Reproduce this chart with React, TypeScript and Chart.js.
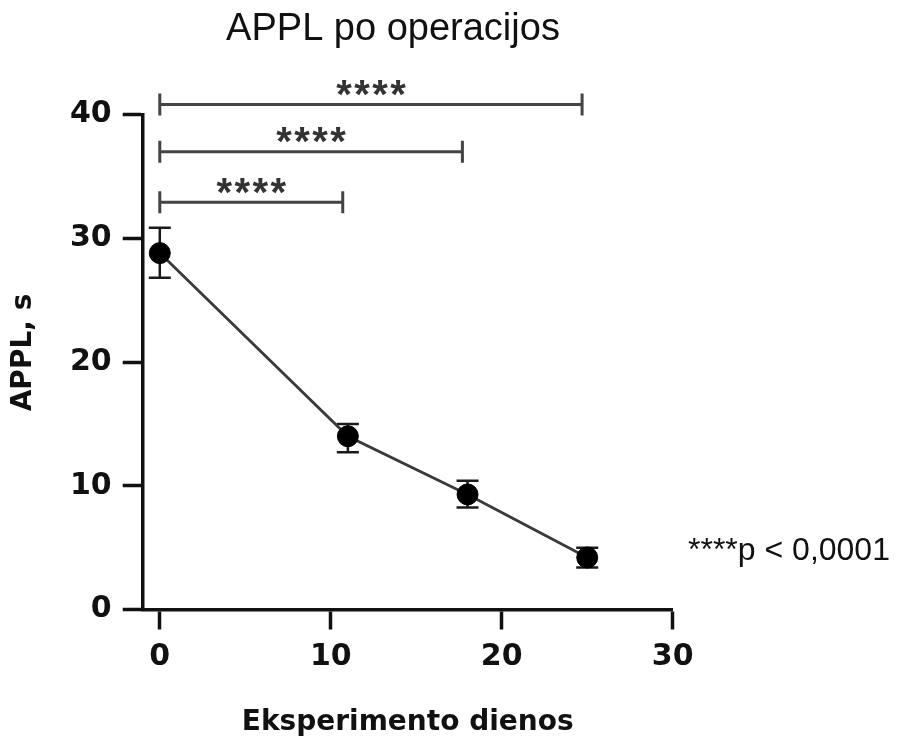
import React, { useEffect, useRef } from "react";
import { Chart, registerables } from "chart.js";

Chart.register(...registerables);

// ---- data ----
const DAYS = [0, 11, 18, 25];
const APPL_MEAN = [28.8, 14.0, 9.3, 4.2];
const APPL_UPPER = [30.85, 15.0, 10.4, 5.0];
const APPL_LOWER = [26.8, 12.7, 8.25, 3.4];

const X_TICKS = [0, 10, 20, 30];
const Y_TICKS = [0, 10, 20, 30, 40];

const BRACKET_FROM = [0, 0, 0];
const BRACKET_TO = [10.7, 17.7, 24.7];
const BRACKET_Y = [32.9, 37.0, 40.8];
const BRACKET_LABELS = ["****", "****", "****"];

const TITLE = "APPL po operacijos";
const X_TITLE = "Eksperimento dienos";
const Y_TITLE = "APPL, s";
const NOTE = "****p < 0,0001";

const INK = "#111111";

const annotate = {
  id: "annotate",
  beforeDatasetsDraw(chart: any) {
    const { ctx, scales } = chart;
    const x = scales.x;
    const y = scales.y;
    ctx.save();
    ctx.strokeStyle = "#1a1a1a";
    ctx.lineWidth = 2.5;
    DAYS.forEach((d, i) => {
      const px = x.getPixelForValue(d);
      const top = y.getPixelForValue(APPL_UPPER[i]);
      const bot = y.getPixelForValue(APPL_LOWER[i]);
      ctx.beginPath();
      ctx.moveTo(px, top);
      ctx.lineTo(px, bot);
      ctx.moveTo(px - 11, top);
      ctx.lineTo(px + 11, top);
      ctx.moveTo(px - 11, bot);
      ctx.lineTo(px + 11, bot);
      ctx.stroke();
    });
    ctx.restore();
  },
  afterDraw(chart: any) {
    const { ctx, scales } = chart;
    const x = scales.x;
    const y = scales.y;
    ctx.save();

    // significance brackets
    ctx.strokeStyle = "#444444";
    ctx.lineWidth = 3;
    BRACKET_Y.forEach((v, i) => {
      const x1 = x.getPixelForValue(BRACKET_FROM[i]);
      const x2 = x.getPixelForValue(BRACKET_TO[i]);
      const py = y.getPixelForValue(v);
      ctx.beginPath();
      ctx.moveTo(x1, py);
      ctx.lineTo(x2, py);
      ctx.moveTo(x1, py - 11);
      ctx.lineTo(x1, py + 11);
      ctx.moveTo(x2, py - 11);
      ctx.lineTo(x2, py + 11);
      ctx.stroke();

      const label = BRACKET_LABELS[i];
      const cx = (x1 + x2) / 2;
      const cy = py - 18.5;
      const pitch = 18;
      ctx.fillStyle = "#333333";
      ctx.font = 'bold 40px "Liberation Sans", Arial, sans-serif';
      ctx.textAlign = "center";
      ctx.textBaseline = "alphabetic";
      const chars = label.split("");
      chars.forEach((c, k) => {
        const sx = cx + (k - (chars.length - 1) / 2) * pitch;
        ctx.fillText(c, sx, cy + 0.55 * 40);
      });
    });

    // chart title
    ctx.fillStyle = INK;
    ctx.font = '38px "Liberation Sans", Arial, sans-serif';
    ctx.textAlign = "center";
    ctx.textBaseline = "middle";
    ctx.fillText(TITLE, 393, 29.5);

    // y-axis title
    ctx.save();
    ctx.translate(24, 352.5);
    ctx.rotate(-Math.PI / 2);
    ctx.font = 'bold 28px "DejaVu Sans", sans-serif';
    ctx.textAlign = "center";
    ctx.textBaseline = "middle";
    ctx.fillText(Y_TITLE, 0, 0);
    ctx.restore();

    // p-value note
    ctx.font = '32px "Liberation Sans", Arial, sans-serif';
    ctx.textAlign = "left";
    ctx.textBaseline = "middle";
    ctx.fillText(NOTE, 688, 551);

    ctx.restore();
  },
};

export default function App() {
  const canvasRef = useRef<HTMLCanvasElement | null>(null);

  useEffect(() => {
    const canvas = canvasRef.current;
    if (!canvas) return;
    const tickFont = { family: '"DejaVu Sans", sans-serif', weight: "bold" as const, size: 30, lineHeight: 1.2 };
    const chart = new Chart(canvas, {
      type: "line",
      data: {
        datasets: [
          {
            data: DAYS.map((d, i) => ({ x: d, y: APPL_MEAN[i] })),
            borderColor: "#3a3a3a",
            borderWidth: 2.8,
            pointRadius: 10.5,
            pointBackgroundColor: "#000000",
            pointBorderColor: "#000000",
            pointBorderWidth: 1,
            tension: 0,
            clip: false as any,
          },
        ],
      },
      options: {
        responsive: false,
        animation: false,
        layout: { padding: { left: 0, right: 225.3, top: 114.5, bottom: 0 } },
        plugins: {
          legend: { display: false },
          title: { display: false },
          tooltip: { enabled: false },
        },
        scales: {
          x: {
            type: "linear",
            min: -1,
            max: 30,
            afterBuildTicks: (s: any) => {
              s.ticks = X_TICKS.map((v) => ({ value: v }));
            },
            afterFit: (s: any) => {
              s.height = 131.5;
            },
            grid: {
              drawOnChartArea: false,
              drawTicks: true,
              tickLength: 20,
              tickWidth: 3.5,
              tickColor: INK,
            },
            border: { display: true, width: 3.5, color: INK },
            ticks: { padding: 10, color: INK, font: tickFont, maxRotation: 0, autoSkip: false },
            title: {
              display: true,
              text: X_TITLE,
              color: INK,
              font: { family: '"DejaVu Sans", sans-serif', weight: "bold", size: 28, lineHeight: 1.2 },
              padding: { top: 0, bottom: 1 },
            },
          },
          y: {
            type: "linear",
            min: 0,
            max: 40,
            afterBuildTicks: (s: any) => {
              s.ticks = Y_TICKS.map((v) => ({ value: v }));
            },
            afterFit: (s: any) => {
              s.width = 142.7;
            },
            grid: {
              drawOnChartArea: false,
              drawTicks: true,
              tickLength: 20,
              tickWidth: 3.5,
              tickColor: INK,
            },
            border: { display: true, width: 3.5, color: INK },
            ticks: { padding: 11, color: INK, font: tickFont, autoSkip: false },
            title: { display: false },
          },
        },
      },
      plugins: [annotate],
    });
    return () => chart.destroy();
  }, []);

  return (
    <div style={{ position: "absolute", left: 0, top: 0, width: 898, height: 741, background: "#ffffff" }}>
      <canvas ref={canvasRef} width={898} height={741} style={{ display: "block", width: 898, height: 741 }} />
    </div>
  );
}
